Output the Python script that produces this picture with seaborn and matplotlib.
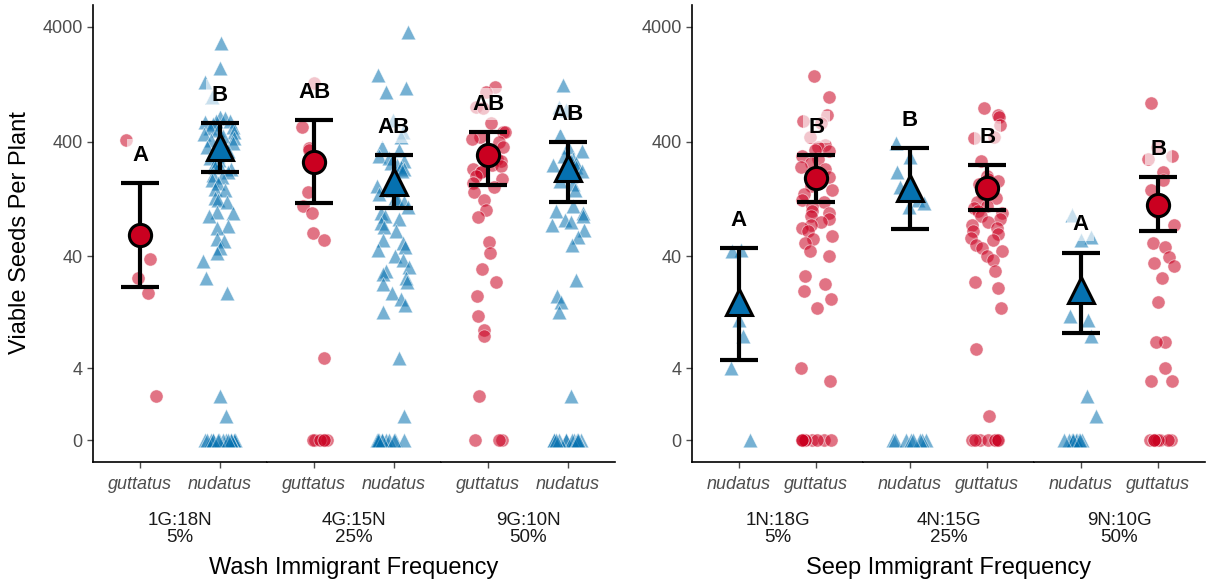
import matplotlib
matplotlib.use("Agg")
import matplotlib.pyplot as plt
import seaborn as sns
import numpy as np
import pandas as pd

RED = "#CA0020"
BLUE = "#0571B0"

# ---- Wash panel (guttatus immigrant) ----
wash_groups = ["1G:18N\n5%", "4G:15N\n25%", "9G:10N\n50%"]
wash_order = ["guttatus", "nudatus"]
wash_gut_pts = [
    [410, 38, 26, 19, 2],
    [1300, 540, 350, 340, 145, 110, 95, 64, 55, 5, 0, 0, 0, 0, 0, 0],
    [1200, 1085, 800, 785, 582, 485, 480, 440, 420, 398, 360, 300, 280, 270,
     250, 245, 230, 217, 215, 200, 190, 175, 160, 145, 124, 101, 88, 53, 43,
     31, 24, 18, 12, 9, 8, 2, 0, 0, 0],
]
wash_nud_pts = [
    [2900, 1750, 1325, 980, 660, 640, 610, 600, 590, 570, 540, 520, 500, 480,
     470, 450, 430, 410, 400, 390, 360, 340, 330, 310, 300, 290, 275, 260, 250,
     240, 230, 215, 205, 195, 185, 175, 155, 150, 128, 124, 120, 98, 95, 90,
     74, 70, 56, 54, 47, 43, 36, 26, 19, 2, 1,
     0, 0, 0, 0, 0, 0, 0, 0, 0, 0, 0, 0, 0, 0, 0],
    [3600, 1525, 1175, 1085, 618, 485, 440, 360, 338, 300, 290, 270, 260, 250,
     240, 230, 220, 165, 155, 150, 140, 130, 125, 118, 108, 95, 90, 85, 78, 72,
     66, 55, 52, 48, 45, 40, 37, 32, 30, 28, 26, 24, 23, 19, 17, 15, 13, 5, 1,
     0, 0, 0, 0, 0, 0, 0, 0, 0, 0, 0, 0],
    [1250, 800, 750, 460, 360, 330, 300, 280, 270, 260, 250, 240, 220, 200, 180,
     170, 150, 110, 100, 95, 90, 83, 80, 75, 68, 59, 50, 25, 18, 16, 13, 2,
     0, 0, 0, 0, 0, 0, 0, 0, 0, 0, 0, 0],
]
wash_gut_mean = [61, 266, 306]
wash_gut_lo = [21.6, 117, 167]
wash_gut_hi = [174, 618, 485]
wash_nud_mean = [359, 178, 236]
wash_nud_lo = [217, 106, 119]
wash_nud_hi = [582, 306, 398]
wash_gut_letters = ["A", "AB", "AB"]
wash_nud_letters = ["B", "AB", "AB"]

# ---- Seep panel (nudatus immigrant) ----
seep_groups = ["1N:18G\n5%", "4N:15G\n25%", "9N:10G\n50%"]
seep_order = ["nudatus", "guttatus"]
seep_nud_pts = [
    [45, 44, 11, 8, 4, 0],
    [390, 294, 217, 162, 124, 117, 107, 0, 0, 0, 0, 0, 0, 0, 0],
    [92, 59, 55, 12, 11, 8, 2, 1, 0, 0, 0, 0, 0, 0, 0, 0, 0, 0],
]
seep_gut_pts = [
    [1500, 980, 680, 600, 580, 440, 370, 360, 340, 330, 300, 280, 260, 240,
     230, 210, 195, 180, 165, 150, 140, 124, 118, 110, 100, 95, 90, 85, 80, 75,
     70, 66, 60, 56, 52, 44, 40, 27, 23, 20, 17, 14, 4, 3,
     0, 0, 0, 0, 0, 0, 0, 0, 0, 0],
    [785, 682, 650, 560, 440, 430, 270, 200, 190, 180, 170, 160, 140, 130, 120,
     110, 105, 100, 95, 90, 85, 80, 75, 70, 66, 62, 58, 55, 50, 47, 44, 40, 37,
     30, 24, 21, 14, 6, 1, 0, 0, 0, 0, 0, 0, 0, 0],
    [870, 360, 300, 280, 218, 185, 150, 97, 75, 52, 48, 39, 35, 33, 26, 16, 7,
     7, 4, 3, 3, 0, 0, 0, 0, 0, 0, 0, 0],
]
seep_nud_mean = [16, 158, 20.3]
seep_nud_lo = [4.8, 69, 8.4]
seep_nud_hi = [47, 352, 43]
seep_gut_mean = [193, 158, 112]
seep_gut_lo = [119, 101, 66.5]
seep_gut_hi = [306, 250, 197]
seep_nud_letters = ["A", "B", "A"]
seep_gut_letters = ["B", "B", "B"]

yticks = [0, 4, 40, 400, 4000]

sns.set_style("ticks")
plt.rcParams["font.family"] = ["Liberation Sans", "DejaVu Sans"]


def fwd(y):
    return np.arcsinh(np.asarray(y, dtype=float) / 2) / np.log(10)


def inv(t):
    return 2 * np.sinh(np.asarray(t, dtype=float) * np.log(10))


def long_table(groups, gut_pts, nud_pts):
    rows = []
    for g, gp, npts in zip(groups, gut_pts, nud_pts):
        rows += [(g, "guttatus", v) for v in gp]
        rows += [(g, "nudatus", v) for v in npts]
    return pd.DataFrame(rows, columns=["group", "species", "seeds"])


wash = long_table(wash_groups, wash_gut_pts, wash_nud_pts)
seep = long_table(seep_groups, seep_gut_pts, seep_nud_pts)

W, H = 1211, 587
fig = plt.figure(figsize=(W / 100, H / 100), dpi=100)
np.random.seed(7)

style = {
    "guttatus": dict(color=RED, marker="o", size=9.5, ms=16),
    "nudatus": dict(color=BLUE, marker="^", size=10.5, ms=19),
}


def draw_panel(df, groups, order, stats, letters, x0, width, title):
    bottom, height = 125 / H, 457 / H
    sub_w = width / 3
    axes = []
    for i, g in enumerate(groups):
        ax = fig.add_axes([(x0 + i * sub_w) / W, bottom, sub_w / W, height],
                          sharey=axes[0] if axes else None)
        sub = df[df["group"] == g]
        for sp in order:
            st = style[sp]
            sns.stripplot(data=sub[sub["species"] == sp], x="species", y="seeds",
                          order=order, color=st["color"], marker=st["marker"],
                          size=st["size"], jitter=0.21, alpha=0.55,
                          edgecolor="white", linewidth=0.6, ax=ax)
        for sp in order:
            pos = order.index(sp)
            m, lo, hi = stats[sp][0][i], stats[sp][1][i], stats[sp][2][i]
            ax.errorbar([pos], [m], yerr=[[m - lo], [hi - m]], fmt="none",
                        ecolor="black", elinewidth=3, capsize=14, capthick=3,
                        zorder=4)
            ax.plot([pos], [m], linestyle="none", marker=style[sp]["marker"],
                    ms=style[sp]["ms"], mfc=style[sp]["color"], mec="black",
                    mew=2.2, zorder=5)
            ax.annotate(letters[sp][i], xy=(pos, hi), xytext=(0, 20),
                        textcoords="offset points", ha="center", va="center",
                        fontsize=16, fontweight="bold", color="black", zorder=6,
                        bbox=dict(boxstyle="square,pad=0.25", fc="white",
                                  ec="none", alpha=0.6))
        ax.set_xlim(-0.6, 1.6)
        ax.set_xlabel(g, fontsize=13.5, color="#1A1A1A", labelpad=14,
                      linespacing=1.0)
        ax.set_ylabel("")
        ax.tick_params(axis="x", labelsize=13, colors="#4D4D4D", length=4,
                       width=1, pad=6)
        for lab in ax.get_xticklabels():
            lab.set_fontstyle("italic")
        for s in ["top", "right"]:
            ax.spines[s].set_visible(False)
        ax.spines["bottom"].set_linewidth(1.2)
        ax.spines["bottom"].set_color("black")
        if i == 0:
            ax.spines["left"].set_linewidth(1.2)
            ax.spines["left"].set_color("black")
            ax.tick_params(axis="y", labelsize=13, colors="#4D4D4D", length=4,
                           width=1)
        else:
            ax.spines["left"].set_visible(False)
            ax.tick_params(axis="y", left=False, labelleft=False)
        axes.append(ax)
    axes[0].set_yscale("function", functions=(fwd, inv))
    axes[0].set_ylim(-0.91, 6200)
    axes[0].set_yticks(yticks)
    axes[0].set_yticklabels([str(t) for t in yticks])
    fig.text((x0 + width / 2) / W, 19 / H, title, ha="center", va="center",
             fontsize=17, color="black")
    return axes


draw_panel(wash, wash_groups, wash_order,
           {"guttatus": (wash_gut_mean, wash_gut_lo, wash_gut_hi),
            "nudatus": (wash_nud_mean, wash_nud_lo, wash_nud_hi)},
           {"guttatus": wash_gut_letters, "nudatus": wash_nud_letters},
           93, 522, "Wash Immigrant Frequency")
draw_panel(seep, seep_groups, seep_order,
           {"guttatus": (seep_gut_mean, seep_gut_lo, seep_gut_hi),
            "nudatus": (seep_nud_mean, seep_nud_lo, seep_nud_hi)},
           {"guttatus": seep_gut_letters, "nudatus": seep_nud_letters},
           692, 513, "Seep Immigrant Frequency")

fig.text(20 / W, (H - 233) / H, "Viable Seeds Per Plant", rotation=90,
         ha="center", va="center", fontsize=17, color="black")

fig.savefig("out.png", dpi=100)
